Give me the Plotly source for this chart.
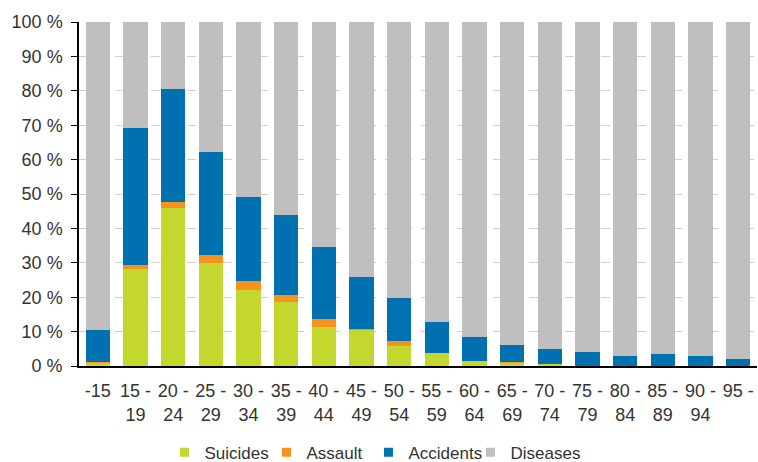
import plotly.graph_objects as go

categories = ["-15", "15 -<br>19", "20 -<br>24", "25 -<br>29", "30 -<br>34", "35 -<br>39",
              "40 -<br>44", "45 -<br>49", "50 -<br>54", "55 -<br>59", "60 -<br>64", "65 -<br>69",
              "70 -<br>74", "75 -<br>79", "80 -<br>84", "85 -<br>89", "90 -<br>94", "95 -"]
suicides = [1.0, 28.1, 45.8, 29.8, 22.1, 18.7, 11.2, 10.5, 5.7, 3.8, 1.5, 1.1, 0.6, 0.1, 0.1, 0.1, 0.0, 0.0]
assault = [0.2, 1.3, 1.9, 2.4, 2.7, 1.8, 2.5, 0.4, 1.5, 0.1, 0.1, 0.05, 0.05, 0.0, 0.0, 0.0, 0.0, 0.0]
accidents = [9.2, 39.7, 32.7, 29.9, 24.3, 23.4, 21.0, 14.9, 12.5, 8.8, 6.9, 5.0, 4.2, 3.9, 2.8, 3.3, 2.9, 1.9]
diseases = [round(100 - s - a - c, 2) for s, a, c in zip(suicides, assault, accidents)]

series = [("Suicides", suicides, "#C3D72E"),
          ("Assault", assault, "#F7921E"),
          ("Accidents", accidents, "#0071B0"),
          ("Diseases", diseases, "#BFBFBF")]

fig = go.Figure()
for name, vals, col in series:
    fig.add_trace(go.Bar(x=categories, y=vals, name=name, showlegend=False,
                         marker=dict(color=col, line=dict(width=0))))
# legend entries with small square markers
for name, vals, col in series:
    fig.add_trace(go.Scatter(x=[None], y=[None], mode="markers", name=name,
                             marker=dict(symbol="square", size=9, color=col)))
# invisible spacer entry so the last legend label is not clipped
fig.add_trace(go.Scatter(x=[None], y=[None], mode="markers", name=" ",
                         marker=dict(symbol="square", size=9, color="rgba(0,0,0,0)")))

fig.update_layout(
    barmode="stack", bargap=0.36,
    width=758, height=462,
    margin=dict(l=79, r=1, t=22, b=96),
    plot_bgcolor="white", paper_bgcolor="white",
    font=dict(family="Liberation Sans, Arial, sans-serif", size=18, color="#333333"),
    legend=dict(orientation="h", xref="container", yref="container",
                x=0.217, xanchor="left", y=0.02, yanchor="middle",
                font=dict(size=17), itemwidth=30, traceorder="normal",
                entrywidth=57, entrywidthmode="pixels"),
    showlegend=True,
)
fig.update_yaxes(range=[0, 100], dtick=10, ticksuffix=" %", showgrid=True,
                 gridcolor="#D0D0D0", griddash="dash", gridwidth=1,
                 showline=True, linecolor="black", linewidth=1.5,
                 ticks="outside", ticklen=6, tickcolor="black", zeroline=False,
                 ticklabelstandoff=5)
fig.update_xaxes(showline=True, linecolor="black", linewidth=1.5, ticks="", tickangle=0,
                 ticklabelstandoff=8)

fig.write_html("out.html")
